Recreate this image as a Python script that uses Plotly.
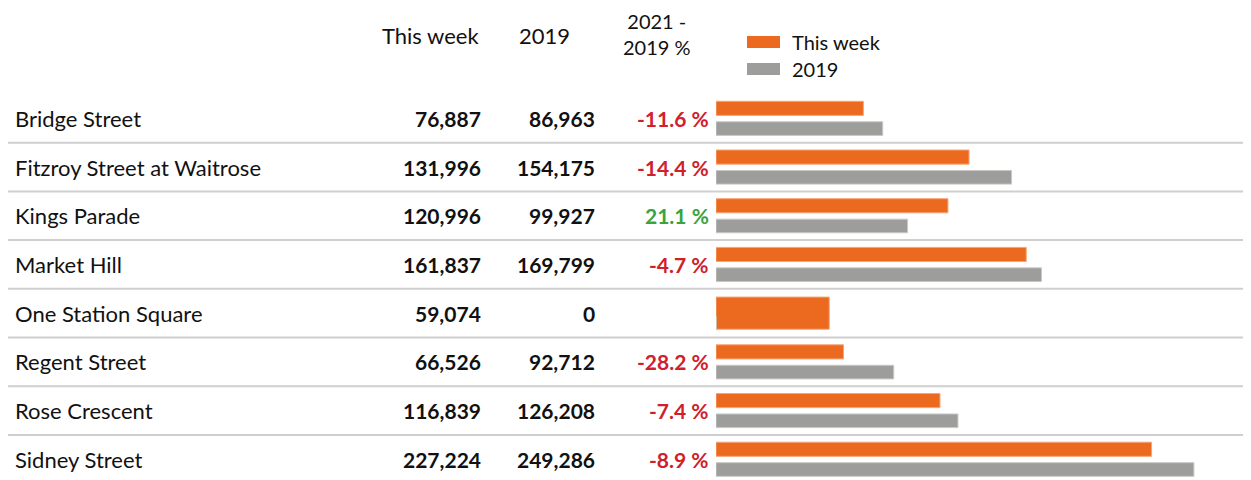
import plotly.graph_objects as go

locations = ["Bridge Street", "Fitzroy Street at Waitrose", "Kings Parade", "Market Hill",
             "One Station Square", "Regent Street", "Rose Crescent", "Sidney Street"]
this_week = [76887, 131996, 120996, 161837, 59074, 66526, 116839, 227224]
y2019 = [86963, 154175, 99927, 169799, 0, 92712, 126208, 249286]
pct_change = [-11.6, -14.4, 21.1, -4.7, None, -28.2, -7.4, -8.9]
col_headers = ["This week", "2019", "2021 -<br>2019 %"]
series_names = ["This week", "2019"]

W, H = 1251, 480
OFF = 8  # page offset of the figure inside the window
TOP = 94 - OFF
BOT = 0
ORANGE = "#EC6A1F"
GREY = "#9D9D9B"
RED = "#D0202A"
GREEN = "#3BA33B"
FONT = "Lato"

def px_x(x):
    return (x - OFF) / W

def px_y(y):
    return (H - BOT - (y - OFF)) / (H - TOP - BOT)

n = len(locations)
ypos = list(range(n))
row_px = 48.7
y_bottom = -0.5 + (H - TOP) / row_px

# bar geometry (style, in category units)
ow, oo, gw, go_ = [], [], [], []
for v in y2019:
    if v == 0:
        ow.append(0.66); oo.append(-0.33)
    else:
        ow.append(0.29); oo.append(-0.35)
    gw.append(0.28); go_.append(0.07)

fig = go.Figure()
fig.add_trace(go.Bar(
    y=ypos, x=this_week, orientation="h", name=series_names[0],
    width=ow, offset=oo,
    marker=dict(color=ORANGE, line=dict(color="#F6A675", width=1)),
    showlegend=False, hoverinfo="skip"))
fig.add_trace(go.Bar(
    y=ypos, x=y2019, orientation="h", name=series_names[1],
    width=gw, offset=go_,
    marker=dict(color=GREY, line=dict(color="#C8C8C6", width=1)),
    showlegend=False, hoverinfo="skip"))

annotations = []
shapes = []
for i in range(n):
    annotations.append(dict(x=px_x(13), y=i, xref="paper", yref="y", text=locations[i],
                            showarrow=False, xanchor="left", yanchor="middle",
                            font=dict(family=FONT, size=22, color="#111")))
    annotations.append(dict(x=px_x(483), y=i, xref="paper", yref="y",
                            text=f"<b>{this_week[i]:,}</b>",
                            showarrow=False, xanchor="right", yanchor="middle",
                            font=dict(family=FONT, size=21, color="#111")))
    annotations.append(dict(x=px_x(597), y=i, xref="paper", yref="y",
                            text=f"<b>{y2019[i]:,}</b>",
                            showarrow=False, xanchor="right", yanchor="middle",
                            font=dict(family=FONT, size=21, color="#111")))
    if pct_change[i] is not None:
        c = RED if pct_change[i] < 0 else GREEN
        annotations.append(dict(x=px_x(711), y=i, xref="paper", yref="y",
                                text=f"<b>{pct_change[i]:.1f} %</b>",
                                showarrow=False, xanchor="right", yanchor="middle",
                                font=dict(family=FONT, size=21, color=c)))
    if i < n - 1:
        shapes.append(dict(type="line", xref="paper", yref="y", x0=px_x(8), x1=1,
                           y0=i + 0.5, y1=i + 0.5, line=dict(color="#CFCFCF", width=2)))

# headers
annotations.append(dict(x=px_x(430), y=px_y(35), xref="paper", yref="paper", text=col_headers[0],
                        showarrow=False, xanchor="center", yanchor="middle",
                        font=dict(family=FONT, size=22, color="#111")))
annotations.append(dict(x=px_x(544), y=px_y(35), xref="paper", yref="paper", text=col_headers[1],
                        showarrow=False, xanchor="center", yanchor="middle",
                        font=dict(family=FONT, size=22, color="#111")))
annotations.append(dict(x=px_x(657), y=px_y(34), xref="paper", yref="paper", text=col_headers[2],
                        showarrow=False, xanchor="center", yanchor="middle", align="center",
                        font=dict(family=FONT, size=20, color="#111")))

# legend
for name, col, yc in [(series_names[0], ORANGE, 42), (series_names[1], GREY, 69)]:
    shapes.append(dict(type="rect", xref="paper", yref="paper",
                       x0=px_x(747), x1=px_x(780), y0=px_y(yc - 6), y1=px_y(yc + 6),
                       fillcolor=col, line=dict(width=0)))
    annotations.append(dict(x=px_x(790), y=px_y(yc), xref="paper", yref="paper", text=name,
                            showarrow=False, xanchor="left", yanchor="middle",
                            font=dict(family=FONT, size=20, color="#111")))

fig.update_layout(
    width=W, height=H,
    margin=dict(l=0, r=0, t=TOP, b=BOT),
    paper_bgcolor="white", plot_bgcolor="white",
    barmode="overlay",
    xaxis=dict(domain=[px_x(716), 1], range=[0, (W - (716 - OFF)) / 0.001917],
               visible=False, fixedrange=True),
    yaxis=dict(range=[y_bottom, -0.5], visible=False, fixedrange=True),
    annotations=annotations, shapes=shapes,
)

fig.write_html("out.html")
